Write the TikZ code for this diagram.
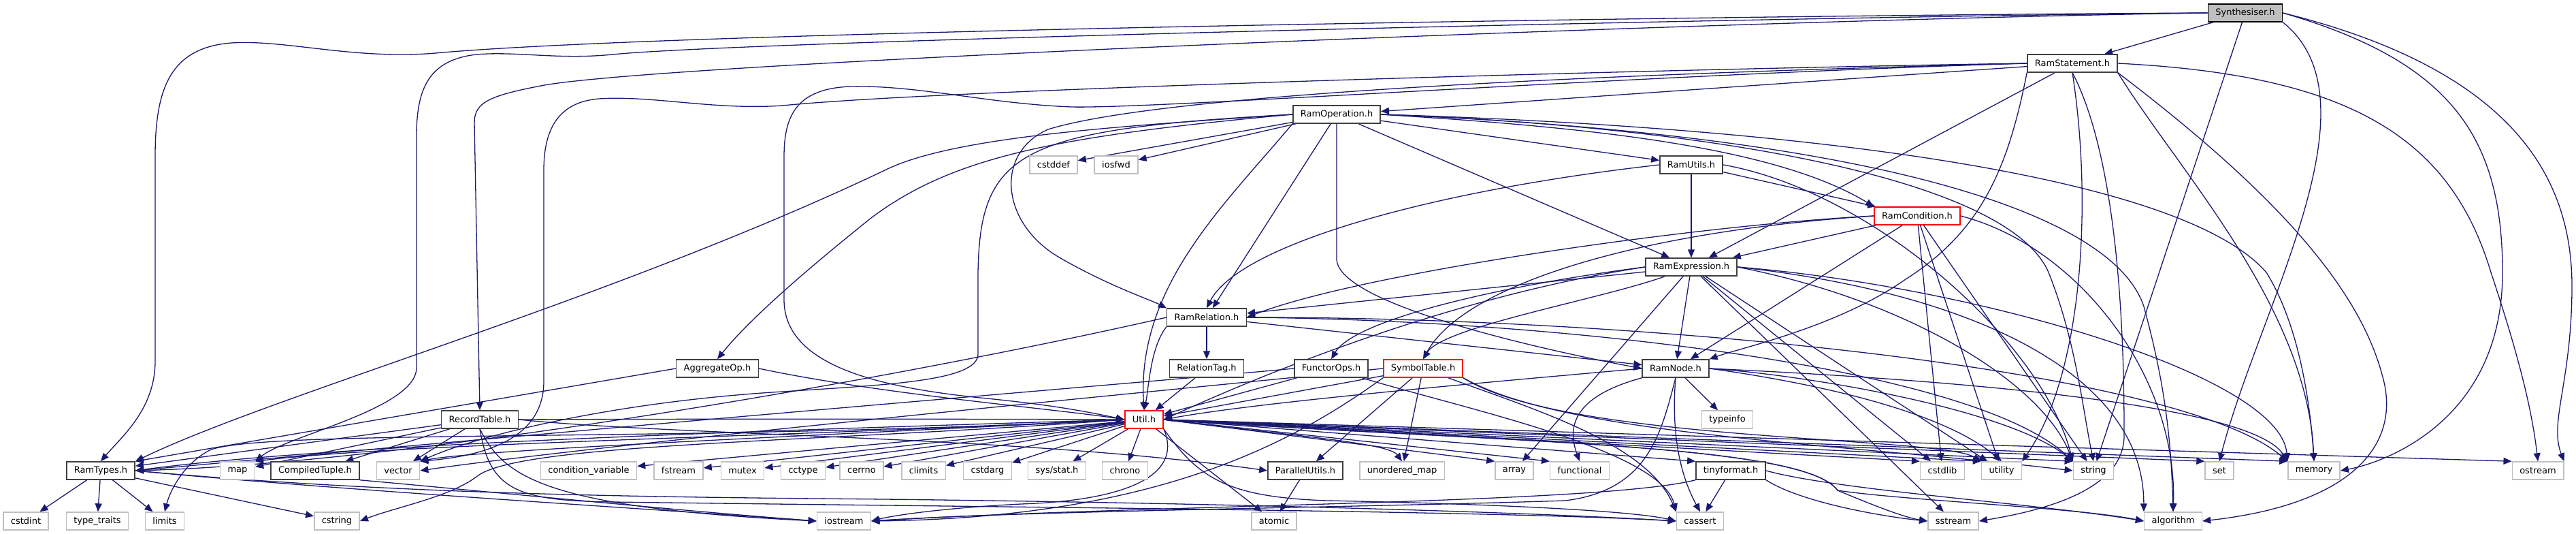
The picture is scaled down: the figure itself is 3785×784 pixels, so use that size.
\documentclass[tikz,border=0pt]{standalone}
\usepackage{fontspec}
\setmainfont{DejaVu Sans}
\usetikzlibrary{arrows.meta}
\definecolor{edgeblue}{RGB}{25,25,112}
\definecolor{sysgray}{RGB}{191,191,191}
\definecolor{boxgray}{RGB}{64,64,64}
\pgfdeclarelayer{background}
\pgfsetlayers{background,main}

\begin{document}
\begin{tikzpicture}[x=1pt,y=-1pt,font=\fontsize{13}{15}\selectfont,
    hdr/.style={draw=boxgray,line width=1.5pt,fill=white,minimum height=26pt,inner xsep=11pt,inner ysep=0pt},
    sys/.style={hdr,draw=sysgray},
    trunc/.style={hdr,draw=red},
    dep/.style={draw=edgeblue,line width=1.3pt,-{Triangle[length=12pt,width=10pt]}}]
\useasboundingbox (0,0) rectangle (3785,784);

% headers of the project
\node[hdr,fill=sysgray,draw=black] (syn) at (3299,19) {Synthesiser.h};
\node[hdr] (stmt) at (3045,93) {RamStatement.h};
\node[hdr] (op) at (1964,168) {RamOperation.h};
\node[hdr] (utils) at (2485,242) {RamUtils.h};
\node[trunc] (cond) at (2817,317) {RamCondition.h};
\node[hdr] (expr) at (2485,392) {RamExpression.h};
\node[hdr] (rel) at (1773,466) {RamRelation.h};
\node[hdr] (aggr) at (1054,541) {AggregateOp.h};
\node[hdr] (tag) at (1773,541) {RelationTag.h};
\node[hdr] (functor) at (1956,541) {FunctorOps.h};
\node[trunc] (symtab) at (2091,541) {SymbolTable.h};
\node[hdr] (ramnode) at (2462,541) {RamNode.h};
\node[hdr] (record) at (705,616) {RecordTable.h};
\node[trunc] (util) at (1681,616) {Util.h};
\node[hdr] (ramtypes) at (148,691) {RamTypes.h};
\node[hdr] (tuple) at (463,691) {CompiledTuple.h};
\node[hdr] (parallel) at (1918,691) {ParallelUtils.h};
\node[hdr] (tinyformat) at (2543,691) {tinyformat.h};

% system headers
\node[sys] (cstddef) at (1548,242) {cstddef};
\node[sys] (iosfwd) at (1640,242) {iosfwd};
\node[sys] (typeinfo) at (2538,616) {typeinfo};
\node[sys] (map) at (349,691) {map};
\node[sys] (vector) at (585,691) {vector};
\node[sys] (condvar) at (865,691) {condition\_variable};
\node[sys] (fstream) at (997,691) {fstream};
\node[sys] (mutex) at (1091,691) {mutex};
\node[sys] (cctype) at (1180,691) {cctype};
\node[sys] (cerrno) at (1266,691) {cerrno};
\node[sys] (climits) at (1357,691) {climits};
\node[sys] (cstdarg) at (1451,691) {cstdarg};
\node[sys] (sysstat) at (1553,691) {sys/stat.h};
\node[sys] (chrono) at (1653,691) {chrono};
\node[sys] (umap) at (2060,691) {unordered\_map};
\node[sys] (array) at (2225,691) {array};
\node[sys] (functional) at (2321,691) {functional};
\node[sys] (cstdlib) at (2854,691) {cstdlib};
\node[sys] (utility) at (2941,691) {utility};
\node[sys] (string) at (3076,691) {string};
\node[sys] (set) at (3261,691) {set};
\node[sys] (memory) at (3400,691) {memory};
\node[sys] (ostream) at (3729,691) {ostream};
\node[sys] (cstdint) at (38,765) {cstdint};
\node[sys] (typetraits) at (143,765) {type\_traits};
\node[sys] (limits) at (242,765) {limits};
\node[sys] (cstring) at (495,765) {cstring};
\node[sys] (iostream) at (1240,765) {iostream};
\node[sys] (atomic) at (1872,765) {atomic};
\node[sys] (cassert) at (2498,765) {cassert};
\node[sys] (sstream) at (2870,765) {sstream};
\node[sys] (algorithm) at (3193,765) {algorithm};

\begin{pgfonlayer}{background}
% Synthesiser.h
\draw[dep] (syn) -- (stmt);
\draw[dep] (syn.west) .. controls (2600,22) and (1000,45) .. (640,78) .. controls (520,88) and (420,58) .. (340,63) .. controls (250,70) and (228,130) .. (228,230) -- (228,530) .. controls (228,600) and (180,640) .. (ramtypes.north);
\draw[dep] (syn.west) .. controls (2600,25) and (1100,60) .. (900,80) .. controls (820,88) and (760,75) .. (700,80) .. controls (630,88) and (612,130) .. (612,200) -- (612,540) .. controls (612,600) and (420,640) .. (map.north east);
\draw[dep] (syn.west) .. controls (2600,28) and (1000,90) .. (800,125) .. controls (720,140) and (697,150) .. (697,180) -- (record.north);
\draw[dep] (syn) -- (string);
\draw[dep] (syn.south east) .. controls (3500,150) and (3320,450) .. (set.north);
\draw[dep] (syn.east) .. controls (3600,90) and (3677,200) .. (3677,400) .. controls (3677,620) and (3500,680) .. (memory.east);
\draw[dep] (syn.east) .. controls (3680,100) and (3779,250) .. (3779,420) .. controls (3779,560) and (3745,620) .. (ostream.north east);

% RamStatement.h
\draw[dep] (stmt) -- (op);
\draw[dep] (stmt.west) .. controls (2300,110) and (1700,140) .. (1540,190) .. controls (1460,225) and (1470,330) .. (1560,380) .. controls (1630,420) and (1690,440) .. (rel.north west);
\draw[dep] (stmt.west) .. controls (2400,110) and (1700,160) .. (1574,157) .. controls (1450,152) and (1350,125) .. (1250,127) .. controls (1170,130) and (1152,170) .. (1152,230) -- (1152,440) .. controls (1152,540) and (1300,570) .. (1450,585) .. controls (1550,595) and (1600,605) .. (util.west);
\draw[dep] (stmt.west) .. controls (2500,100) and (1400,130) .. (1150,155) .. controls (1050,162) and (960,140) .. (880,145) .. controls (820,150) and (799,190) .. (799,250) -- (799,560) .. controls (799,650) and (700,670) .. (vector.north east);
\draw[dep] (stmt) -- (expr);
\draw[dep] (stmt.south west) .. controls (2950,250) and (2910,340) .. (2800,410) .. controls (2700,480) and (2560,510) .. (ramnode.north east);
\draw[dep] (stmt.south) .. controls (3075,300) and (3060,550) .. (utility.north east);
\draw[dep] (stmt.south) .. controls (3120,250) and (3121,550) .. (3121,640) .. controls (3121,720) and (3000,750) .. (sstream.east);
\draw[dep] (stmt.south east) .. controls (3200,250) and (3390,450) .. (memory.north);
\draw[dep] (stmt.south east) .. controls (3300,250) and (3460,400) .. (3500,550) .. controls (3530,650) and (3460,740) .. (algorithm.east);
\draw[dep] (stmt.east) .. controls (3450,110) and (3600,200) .. (3660,400) .. controls (3700,520) and (3720,600) .. (ostream.north);

% RamOperation.h
\draw[dep] (op.west) .. controls (1650,185) and (1400,200) .. (1300,250) .. controls (900,440) and (400,580) .. (ramtypes.north east);
\draw[dep] (op.west) .. controls (1550,200) and (1400,230) .. (1280,320) .. controls (1180,400) and (1100,470) .. (aggr.north);
\draw[dep] (op.west) .. controls (1500,190) and (1440,220) .. (1437,400) -- (1437,520) .. controls (1437,560) and (1300,565) .. (1150,575) .. controls (900,590) and (700,640) .. (vector.north east);
\draw[dep] (op) -- (cstddef);
\draw[dep] (op) -- (iosfwd);
\draw[dep] (op.south west) .. controls (1800,300) and (1670,420) .. (util.north);
\draw[dep] (op) -- (rel);
\draw[dep] (op.south) -- (1964,380) .. controls (1964,450) and (2300,520) .. (ramnode.west);
\draw[dep] (op) -- (expr);
\draw[dep] (op) -- (utils);
\draw[dep] (op.east) .. controls (2300,185) and (2600,210) .. (cond.north west);
\draw[dep] (op.east) .. controls (2500,185) and (2950,260) .. (3010,400) .. controls (3050,500) and (3060,600) .. (string.north);
\draw[dep] (op.east) .. controls (2600,185) and (3200,250) .. (3330,400) .. controls (3380,480) and (3395,600) .. (memory.north);
\draw[dep] (op.east) .. controls (2700,195) and (3100,300) .. (3150,450) .. controls (3180,560) and (3190,640) .. (algorithm.north);

% RamUtils.h
\draw[dep] (utils) -- (expr);
\draw[dep] (utils) -- (cond);
\draw[dep] (utils.west) .. controls (2100,280) and (1820,360) .. (rel.north);
\draw[dep] (utils.east) .. controls (2750,280) and (3000,500) .. (string.north west);

% RamCondition.h
\draw[dep] (cond.west) .. controls (2500,330) and (2000,400) .. (rel.east);
\draw[dep] (cond) -- (expr);
\draw[dep] (cond.west) .. controls (2400,340) and (2150,420) .. (symtab.north);
\draw[dep] (cond) -- (ramnode);
\draw[dep] (cond) -- (cstdlib);
\draw[dep] (cond) -- (utility);
\draw[dep] (cond) -- (string);
\draw[dep] (cond.east) .. controls (3050,360) and (3200,550) .. (algorithm.north);

% RamExpression.h
\draw[dep] (expr) -- (rel);
\draw[dep] (expr.west) .. controls (2200,420) and (1990,470) .. (functor.north);
\draw[dep] (expr) .. controls (2350,440) and (2120,480) .. (symtab.north);
\draw[dep] (expr.west) .. controls (2100,440) and (1800,575) .. (util.east);
\draw[dep] (expr) -- (ramnode);
\draw[dep] (expr) -- (array);
\draw[dep] (expr) -- (cstdlib);
\draw[dep] (expr) -- (utility);
\draw[dep] (expr) -- (sstream);
\draw[dep] (expr.east) .. controls (2800,440) and (3000,560) .. (string.north west);
\draw[dep] (expr.east) .. controls (2900,430) and (3150,550) .. (algorithm.north west);
\draw[dep] (expr.east) .. controls (2900,420) and (3350,550) .. (memory.north west);

% RamRelation.h
\draw[dep] (rel) -- (tag);
\draw[dep] (rel.south west) .. controls (1690,510) and (1688,570) .. (util.north);
\draw[dep] (rel.west) .. controls (1300,560) and (600,680) .. (ramtypes.east);
\draw[dep] (rel) -- (ramnode);
\draw[dep] (rel.east) .. controls (2300,470) and (2900,540) .. (string.north west);
\draw[dep] (rel.east) .. controls (2400,465) and (3200,540) .. (memory.north west);

% AggregateOp.h, RelationTag.h, FunctorOps.h
\draw[dep] (aggr.west) -- (ramtypes.north east);
\draw[dep] (aggr.east) .. controls (1300,580) and (1550,600) .. (util.west);
\draw[dep] (tag) -- (util);
\draw[dep] (functor.west) .. controls (1700,560) and (1200,600) .. (ramtypes.east);
\draw[dep] (functor) -- (util);
\draw[dep] (functor) .. controls (2150,600) and (2440,660) .. (cassert.north west);

% SymbolTable.h
\draw[dep] (symtab) -- (util);
\draw[dep] (symtab.west) .. controls (1800,565) and (900,650) .. (vector.east);
\draw[dep] (symtab) -- (parallel);
\draw[dep] (symtab) -- (umap);
\draw[dep] (symtab.south west) .. controls (1900,650) and (1700,760) .. (iostream.east);
\draw[dep] (symtab) .. controls (2250,600) and (2420,650) .. (cassert.north west);
\draw[dep] (symtab.south east) .. controls (2300,640) and (2700,650) .. (string.west);
\draw[dep] (symtab.south east) .. controls (2300,650) and (2850,640) .. (utility.north west);

% RamNode.h
\draw[dep] (ramnode) -- (typeinfo);
\draw[dep] (ramnode.south west) .. controls (2320,580) and (2300,620) .. (functional.north);
\draw[dep] (ramnode.south) .. controls (2440,640) and (2420,720) .. (2300,735) .. controls (2000,745) and (1500,750) .. (iostream.east);
\draw[dep] (ramnode.south) .. controls (2455,640) and (2470,700) .. (cassert.north);
\draw[dep] (ramnode.west) .. controls (2200,560) and (1850,590) .. (util.east);
\draw[dep] (ramnode.east) .. controls (2650,550) and (2950,600) .. (string.north west);
\draw[dep] (ramnode.east) .. controls (2650,560) and (2850,600) .. (utility.north);
\draw[dep] (ramnode.east) .. controls (2700,550) and (3300,580) .. (memory.north west);

% RecordTable.h, CompiledTuple.h
\draw[dep] (record) -- (ramtypes);
\draw[dep] (record) -- (tuple);
\draw[dep] (record) -- (vector);
\draw[dep] (record) -- (map);
\draw[dep] (record.south) .. controls (740,700) and (800,745) .. (iostream.west);
\draw[dep] (record.east) .. controls (1000,615) and (1400,615) .. (util.west);
\draw[dep] (record.south) .. controls (720,720) and (760,735) .. (900,737) .. controls (1500,745) and (2200,750) .. (cassert.west);
\draw[dep] (record.east) .. controls (1000,640) and (1500,640) .. (parallel.west);
\draw[dep] (tuple.south east) .. controls (700,720) and (1000,750) .. (iostream.west);

% Util.h
\draw[dep] (util.west) .. controls (1200,630) and (500,650) .. (ramtypes.east);
\draw[dep] (util.west) .. controls (1200,640) and (600,650) .. (map.north east);
\draw[dep] (util.west) .. controls (1200,640) and (700,660) .. (vector.north east);
\draw[dep] (util) -- (condvar);
\draw[dep] (util) -- (fstream);
\draw[dep] (util) -- (mutex);
\draw[dep] (util) -- (cctype);
\draw[dep] (util) -- (cerrno);
\draw[dep] (util) -- (climits);
\draw[dep] (util) -- (cstdarg);
\draw[dep] (util) -- (sysstat);
\draw[dep] (util) -- (chrono);
\draw[dep] (util) -- (atomic);
\draw[dep] (util.west) .. controls (1000,650) and (400,630) .. (310,660) .. controls (270,680) and (250,720) .. (limits.north);
\draw[dep] (util.west) .. controls (1200,650) and (760,650) .. (700,700) .. controls (660,730) and (580,745) .. (cstring.east);
\draw[dep] (util.south east) .. controls (1740,700) and (1650,735) .. (1500,740) .. controls (1400,745) and (1320,755) .. (iostream.east);
\draw[dep] (util.east) .. controls (1900,640) and (2040,650) .. (umap.north);
\draw[dep] (util.east) -- (array.north west);
\draw[dep] (util.east) -- (functional.north west);
\draw[dep] (util.east) -- (tinyformat.north west);
\draw[dep] (util.east) -- (cstdlib.north west);
\draw[dep] (util.east) -- (utility.north west);
\draw[dep] (util.east) -- (string.north west);
\draw[dep] (util.east) -- (set.north west);
\draw[dep] (util.east) -- (memory.north west);
\draw[dep] (util.east) -- (ostream.north west);
\draw[dep] (util.east) .. controls (2200,650) and (2650,650) .. (2700,720) .. controls (2760,745) and (2800,760) .. (sstream.west);
\draw[dep] (util.east) .. controls (2200,650) and (2650,650) .. (2700,720) .. controls (2800,735) and (3050,745) .. (algorithm.west);
\draw[dep] (util.south east) .. controls (1760,700) and (1800,730) .. (1950,735) .. controls (2200,740) and (2400,750) .. (cassert.west);

% ParallelUtils.h, tinyformat.h
\draw[dep] (parallel) -- (atomic);
\draw[dep] (tinyformat) -- (cassert);
\draw[dep] (tinyformat.south east) .. controls (2650,740) and (2780,760) .. (sstream.west);
\draw[dep] (tinyformat.east) .. controls (2700,720) and (3000,740) .. (algorithm.west);
\draw[dep] (tinyformat.south west) .. controls (2350,740) and (1700,740) .. (iostream.east);

% RamTypes.h
\draw[dep] (ramtypes) -- (cstdint);
\draw[dep] (ramtypes) -- (typetraits);
\draw[dep] (ramtypes) -- (limits);
\draw[dep] (ramtypes) -- (cstring);
\draw[dep] (ramtypes.east) .. controls (500,720) and (1000,750) .. (iostream.west);
\draw[dep] (ramtypes.east) .. controls (600,728) and (1000,730) .. (1300,733) .. controls (1900,740) and (2300,755) .. (cassert.west);
\end{pgfonlayer}
\end{tikzpicture}
\end{document}
